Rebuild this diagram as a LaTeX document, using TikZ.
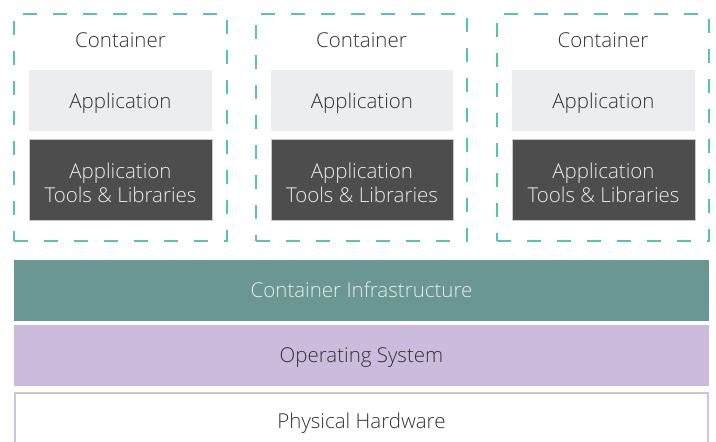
\documentclass[tikz,border=0pt]{standalone}
\usepackage{fontspec}
\setmainfont{Open Sans Light}
\definecolor{dashteal}{RGB}{84,196,182}
\definecolor{infra}{RGB}{107,151,147}
\definecolor{osfill}{RGB}{203,187,220}
\definecolor{hwborder}{RGB}{208,195,225}
\definecolor{appfill}{RGB}{236,237,239}
\definecolor{darkfill}{RGB}{77,77,77}
\definecolor{darkborder}{RGB}{200,200,200}
\definecolor{txt}{RGB}{51,51,51}
\definecolor{lighttxt}{RGB}{235,235,235}
\tikzset{
  lbl/.style={font=\fontsize{20.5}{24}\selectfont, inner sep=0pt, anchor=base},
  contbox/.style={draw=dashteal, line width=1.5pt, dash pattern=on 14pt off 16pt, inner sep=0pt},
  appbox/.style={fill=appfill, inner sep=0pt},
  darkbox/.style={fill=darkfill, draw=darkborder, line width=1pt, inner sep=0pt},
  layer/.style={inner sep=0pt}
}
\begin{document}
\begin{tikzpicture}[x=1pt,y=-1pt]
\useasboundingbox (0,0) rectangle (716,442);
% containers
\foreach \i/\l/\r/\al/\ar in {1/14/227/29/212, 2/256/467/271/453, 3/497/709/512/695}{
  \node[contbox, minimum width={(\r-\l)*1pt}, minimum height=227pt] (c\i) at ({(\l+\r)/2},127.5) {};
  \node[lbl, text=txt] (ct\i) at ({(\l+\r)/2},47) {Container};
  \node[appbox, minimum width={(\ar-\al)*1pt}, minimum height=61pt] (a\i) at ({(\al+\ar)/2},100.5) {};
  \node[lbl, text=txt] (at\i) at ({(\al+\ar)/2},108) {Application};
  \node[darkbox, minimum width={(\ar-\al)*1pt}, minimum height=81pt] (t\i) at ({(\al+\ar)/2},179.5) {};
  \node[lbl, text=lighttxt] (tt\i) at ({(\al+\ar)/2},178) {Application};
  \node[lbl, text=lighttxt] (tl\i) at ({(\al+\ar)/2},202) {Tools \& Libraries};
}
% layers
\node[layer, fill=infra, minimum width=695pt, minimum height=61pt] (infra) at (361.5,290.5) {};
\node[lbl, text=lighttxt] (infrat) at (361.5,297) {Container Infrastructure};
\node[layer, fill=osfill, minimum width=695pt, minimum height=61pt] (os) at (361.5,355.5) {};
\node[lbl, text=txt] (ost) at (361.5,362) {Operating System};
\node[layer, fill=white, draw=hwborder, line width=2pt, minimum width=693pt, minimum height=60pt] (hw) at (361.5,423) {};
\node[lbl, text=txt] (hwt) at (361.5,428) {Physical Hardware};
\end{tikzpicture}
\end{document}
